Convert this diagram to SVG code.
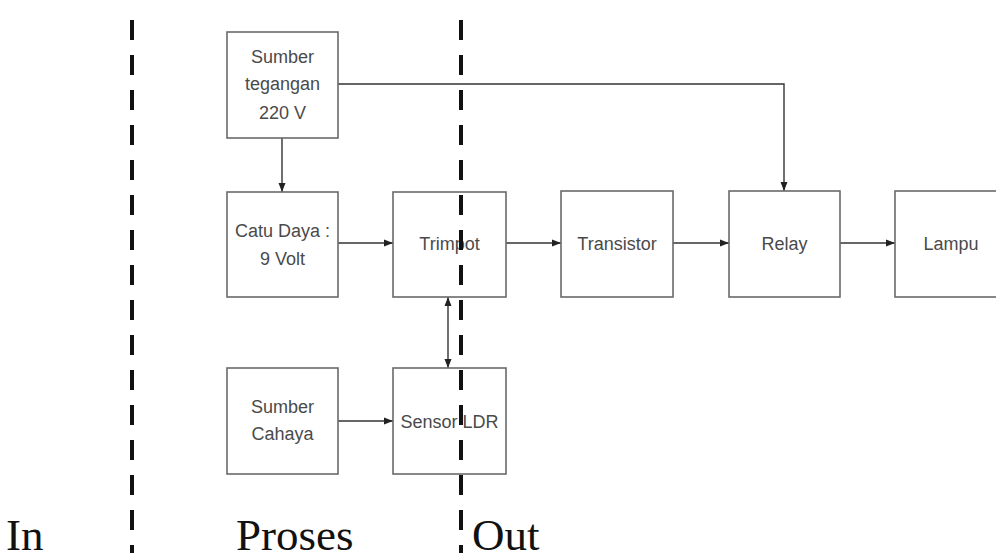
<svg xmlns="http://www.w3.org/2000/svg" width="996" height="553" viewBox="0 0 996 553">
<defs>
<marker id="ah" markerWidth="10" markerHeight="8" refX="9" refY="4" orient="auto" markerUnits="userSpaceOnUse">
<path d="M0,0.5 L9,4 L0,7.5 Z" fill="#222"/>
</marker>
<marker id="ahs" markerWidth="10" markerHeight="8" refX="1" refY="4" orient="auto" markerUnits="userSpaceOnUse">
<path d="M10,0.5 L1,4 L10,7.5 Z" fill="#222"/>
</marker>
<style>
.box{fill:#fff;stroke:#6a6a6a;stroke-width:1.6}
.lbl{font-family:"Liberation Sans",Arial,sans-serif;font-size:18px;fill:#4a4a4a;text-anchor:middle}
.conn{stroke:#333;stroke-width:1.4;fill:none}
.dash{stroke:#111;stroke-width:4;stroke-dasharray:20 15}
.zone{font-family:"Liberation Serif","Times New Roman",serif;font-size:45px;fill:#111}
</style>
</defs>
<rect width="996" height="553" fill="#fff"/>
<g id="connectors">
<line class="conn" x1="282" y1="138" x2="282" y2="192" marker-end="url(#ah)"/>
<polyline class="conn" points="338,84 784,84 784,191" marker-end="url(#ah)"/>
<line class="conn" x1="338" y1="243" x2="393" y2="243" marker-end="url(#ah)"/>
<line class="conn" x1="506" y1="243" x2="561" y2="243" marker-end="url(#ah)"/>
<line class="conn" x1="673" y1="243" x2="729" y2="243" marker-end="url(#ah)"/>
<line class="conn" x1="840" y1="243" x2="895" y2="243" marker-end="url(#ah)"/>
<line class="conn" x1="338" y1="421" x2="393" y2="421" marker-end="url(#ah)"/>
<line class="conn" x1="448" y1="297" x2="448" y2="368" marker-start="url(#ahs)" marker-end="url(#ah)"/>
</g>
<g id="sumber-tegangan">
<rect class="box" x="227" y="32" width="111" height="106"/>
<text class="lbl" x="282.5" y="63">Sumber</text>
<text class="lbl" x="282.5" y="90">tegangan</text>
<text class="lbl" x="282.5" y="119">220 V</text>
</g>
<g id="catu-daya">
<rect class="box" x="227" y="192" width="111" height="105"/>
<text class="lbl" x="282.5" y="237">Catu Daya :</text>
<text class="lbl" x="282.5" y="265">9 Volt</text>
</g>
<g id="trimpot">
<rect class="box" x="393" y="192" width="113" height="105"/>
<text class="lbl" x="449.5" y="250">Trimpot</text>
</g>
<g id="transistor">
<rect class="box" x="561" y="191" width="112" height="106"/>
<text class="lbl" x="617" y="250">Transistor</text>
</g>
<g id="relay">
<rect class="box" x="729" y="191" width="111" height="106"/>
<text class="lbl" x="784.5" y="250">Relay</text>
</g>
<g id="lampu">
<rect class="box" x="895" y="191" width="120" height="106"/>
<text class="lbl" x="951" y="250">Lampu</text>
</g>
<g id="sumber-cahaya">
<rect class="box" x="227" y="368" width="111" height="106"/>
<text class="lbl" x="282.5" y="413">Sumber</text>
<text class="lbl" x="282.5" y="440">Cahaya</text>
</g>
<g id="sensor-ldr">
<rect class="box" x="393" y="368" width="113" height="106"/>
<text class="lbl" x="449.5" y="428">Sensor LDR</text>
</g>
<g id="dividers">
<line class="dash" x1="132" y1="20" x2="132" y2="553"/>
<line class="dash" x1="461" y1="20" x2="461" y2="553"/>
</g>
<g id="zones">
<text class="zone" x="6" y="550">In</text>
<text class="zone" x="236" y="550">Proses</text>
<text class="zone" x="472" y="550">Out</text>
</g>
</svg>
